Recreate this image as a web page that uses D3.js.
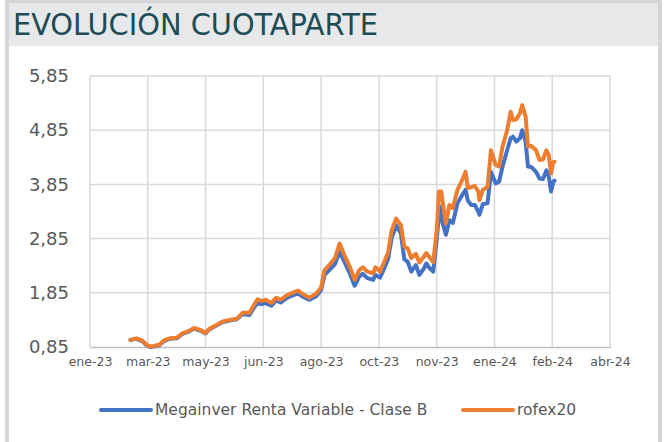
<!DOCTYPE html>
<html>
<head>
<meta charset="utf-8">
<script src="https://cdn.jsdelivr.net/npm/d3@7"></script>
<style>
  body { margin: 0; background: #fff; }
  svg { display: block; font-family: "DejaVu Sans", sans-serif; }
</style>
</head>
<body>
<div id="chart"></div>
<script>
// dates (approx. readings)
const dates = [
  "2023-02-28","2023-03-05","2023-03-10","2023-03-14","2023-03-17","2023-03-20","2023-03-25","2023-03-29",
  "2023-04-03","2023-04-09","2023-04-14","2023-04-20","2023-04-24","2023-04-30","2023-05-04","2023-05-07",
  "2023-05-13","2023-05-19","2023-05-25","2023-05-31","2023-06-05","2023-06-11","2023-06-15","2023-06-18",
  "2023-06-21","2023-06-25","2023-06-30","2023-07-04","2023-07-08","2023-07-13","2023-07-18","2023-07-23",
  "2023-07-27","2023-08-02","2023-08-08","2023-08-12","2023-08-15","2023-08-19","2023-08-24","2023-08-28",
  "2023-09-01","2023-09-06","2023-09-10","2023-09-14","2023-09-17","2023-09-21","2023-09-26","2023-09-28",
  "2023-10-02","2023-10-06","2023-10-09","2023-10-12","2023-10-16","2023-10-20","2023-10-23","2023-10-26",
  "2023-10-29","2023-11-02","2023-11-05","2023-11-09","2023-11-11","2023-11-14","2023-11-17","2023-11-20",
  "2023-11-22","2023-11-24","2023-11-25","2023-11-28","2023-12-01","2023-12-04","2023-12-08","2023-12-12",
  "2023-12-15","2023-12-17","2023-12-20","2023-12-23","2023-12-26","2023-12-27","2023-12-30","2024-01-03",
  "2024-01-06","2024-01-10","2024-01-13","2024-01-16","2024-01-20","2024-01-23","2024-01-25","2024-01-28",
  "2024-01-31","2024-02-02","2024-02-05","2024-02-07","2024-02-10","2024-02-14","2024-02-17","2024-02-20",
  "2024-02-23","2024-02-25","2024-02-27","2024-02-29","2024-03-01"
];
const megainver = [
  0.98,1.00,0.96,0.88,0.85,0.86,0.88,0.96,
  1.00,1.01,1.09,1.14,1.19,1.15,1.10,1.17,
  1.24,1.31,1.34,1.36,1.46,1.44,1.58,1.66,
  1.64,1.66,1.61,1.71,1.67,1.75,1.80,1.84,
  1.78,1.72,1.79,1.90,2.18,2.27,2.38,2.60,
  2.43,2.20,1.98,2.15,2.20,2.12,2.09,2.18,
  2.13,2.32,2.48,2.86,3.09,2.95,2.47,2.42,
  2.24,2.36,2.18,2.30,2.39,2.30,2.24,2.82,
  3.30,3.44,3.15,2.92,3.19,3.14,3.50,3.65,
  3.75,3.55,3.47,3.47,3.35,3.29,3.49,3.50,
  4.08,3.87,3.90,4.18,4.48,4.70,4.73,4.64,
  4.70,4.85,4.64,4.18,4.17,4.08,3.96,3.95,
  4.11,3.99,3.72,3.90,3.92
];
const rofex20 = [
  0.98,1.01,0.97,0.89,0.86,0.87,0.89,0.97,
  1.01,1.02,1.10,1.15,1.20,1.16,1.11,1.18,
  1.25,1.32,1.35,1.37,1.48,1.48,1.63,1.73,
  1.70,1.72,1.66,1.76,1.72,1.80,1.85,1.89,
  1.83,1.76,1.84,1.95,2.27,2.36,2.49,2.76,
  2.55,2.32,2.09,2.27,2.32,2.24,2.21,2.32,
  2.24,2.44,2.60,3.00,3.22,3.10,2.70,2.67,
  2.49,2.57,2.41,2.52,2.58,2.50,2.42,2.98,
  3.72,3.72,3.55,3.13,3.47,3.41,3.75,3.93,
  4.08,3.78,3.80,3.82,3.72,3.56,3.75,3.80,
  4.48,4.21,4.18,4.55,4.85,5.19,5.04,5.05,
  5.16,5.31,5.10,4.55,4.56,4.48,4.30,4.31,
  4.48,4.39,4.05,4.27,4.27
];
const seriesNames = ["Megainver Renta Variable - Clase B", "rofex20"];
const seriesColors = ["#4472c4", "#ed7d31"];
const xTickLabels = ["ene-23","mar-23","may-23","jun-23","ago-23","oct-23","nov-23","ene-24","feb-24","abr-24"];
const yTicks = [0.85, 1.85, 2.85, 3.85, 4.85, 5.85];

const W = 665, H = 442;
const svg = d3.select("#chart").append("svg")
    .attr("width", W)
    .attr("height", H);

// frame + title band
svg.append("rect").attr("x", 0).attr("y", 0).attr("width", W).attr("height", H).attr("fill", "#fff");
svg.append("rect").attr("x", 5).attr("y", 0).attr("width", 657).attr("height", 46).attr("fill", "#e7e8e9");
svg.append("rect").attr("x", 5).attr("y", 0).attr("width", 657).attr("height", 3).attr("fill", "#d4d5d6");
svg.append("rect").attr("x", 5).attr("y", 0).attr("width", 4).attr("height", H).attr("fill", "#d4d5d6");
svg.append("rect").attr("x", 658).attr("y", 0).attr("width", 4).attr("height", H).attr("fill", "#d4d5d6");

svg.append("text")
    .attr("x", 13)
    .attr("y", 35)
    .attr("textLength", 365)
    .attr("lengthAdjust", "spacingAndGlyphs")
    .style("font-family", "'DejaVu Sans Condensed', 'Liberation Sans Narrow', sans-serif")
    .style("font-size", "30px")
    .attr("fill", "#1c4c56")
    .text("EVOLUCIÓN CUOTAPARTE");

// scales
const parse = d3.utcParse("%Y-%m-%d");
const start = parse("2023-01-24");
const tickDates = xTickLabels.map((_, i) => d3.utcDay.offset(start, 50 * i));

const x = d3.scaleUtc()
    .domain([start, tickDates[tickDates.length - 1]])
    .range([90, 610]);
const y = d3.scaleLinear()
    .domain([0.85, 5.85])
    .range([347, 76]);

// grid
const grid = svg.append("g").attr("stroke", "#d9d9d9").attr("stroke-width", 1.5);
grid.selectAll(".gy").data(yTicks.slice(1)).join("line")
    .attr("x1", 90).attr("x2", 610)
    .attr("y1", d => y(d)).attr("y2", d => y(d));
grid.selectAll(".gx").data(tickDates).join("line")
    .attr("x1", d => x(d)).attr("x2", d => x(d))
    .attr("y1", 76).attr("y2", 347);

// axes
const yAxis = d3.axisLeft(y).tickValues(yTicks).tickSize(0).tickPadding(21)
    .tickFormat(d => d3.format(".2f")(d).replace(".", ","));
svg.append("g")
    .attr("transform", "translate(90,0)")
    .call(yAxis)
    .call(g => g.select(".domain").remove())
    .call(g => g.selectAll("text")
        .attr("fill", "#595959")
        .style("font-size", "18px")
        .style("font-family", "'DejaVu Sans', sans-serif"));

const xAxis = d3.axisBottom(x).tickValues(tickDates).tickSize(0).tickPadding(10)
    .tickFormat((d, i) => xTickLabels[i]);
svg.append("g")
    .attr("transform", "translate(0,347)")
    .call(xAxis)
    .call(g => g.select(".domain").attr("stroke", "#bfbfbf").attr("stroke-width", 1.5))
    .call(g => g.selectAll("text")
        .attr("fill", "#595959")
        .style("font-size", "12.5px")
        .style("font-family", "'DejaVu Sans', sans-serif"));

// lines
const rows = dates.map((d, i) => ({ date: parse(d), a: megainver[i], b: rofex20[i] }));
const lineA = d3.line().x(d => x(d.date)).y(d => y(d.a));
const lineB = d3.line().x(d => x(d.date)).y(d => y(d.b));

[lineA, lineB].forEach((ln, i) => {
    svg.append("path")
        .datum(rows)
        .attr("d", ln)
        .attr("fill", "none")
        .attr("stroke", seriesColors[i])
        .attr("stroke-width", 4)
        .attr("stroke-linejoin", "round")
        .attr("stroke-linecap", "round");
});

// legend
const legendX = [101, 463];
seriesNames.forEach((name, i) => {
    svg.append("line")
        .attr("x1", legendX[i]).attr("x2", legendX[i] + 50)
        .attr("y1", 410).attr("y2", 410)
        .attr("stroke", seriesColors[i])
        .attr("stroke-width", 4)
        .attr("stroke-linecap", "round");
    svg.append("text")
        .attr("x", legendX[i] + 54)
        .attr("y", 410)
        .attr("dy", "0.35em")
        .attr("fill", "#595959")
        .style("font-size", "15.5px")
        .text(name);
});
</script>
</body>
</html>
